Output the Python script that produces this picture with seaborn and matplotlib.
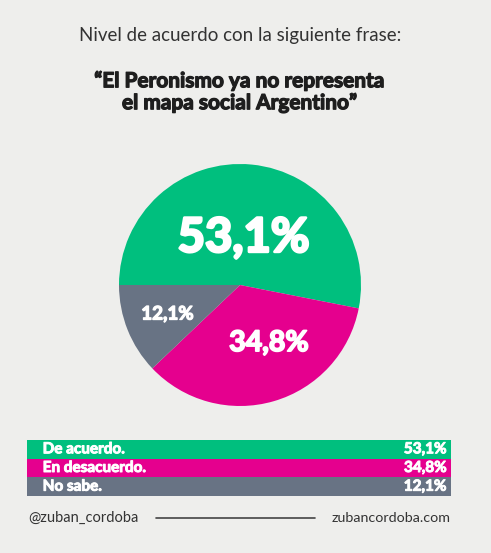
import matplotlib
matplotlib.use("Agg")
import matplotlib.pyplot as plt
import matplotlib.patheffects as pe
import seaborn as sns

categories = ["De acuerdo.", "En desacuerdo.", "No sabe."]
values = [53.1, 34.8, 12.1]
value_labels = ["53,1%", "34,8%", "12,1%"]
colors = ["#00BF7E", "#E5008E", "#687384"]

title = "Nivel de acuerdo con la siguiente frase:"
quote = "\u201cEl Peronismo ya no representa\nel mapa social Argentino\u201d"
handle = "@zuban_cordoba"
site = "zubancordoba.com"

sns.set_theme(style="white")
BG = "#EEEEEC"
plt.rcParams['font.family'] = ['Lato', 'DejaVu Sans']

def heavy(color, w):
    return [pe.withStroke(linewidth=w, foreground=color)]

fig = plt.figure(figsize=(4.91, 5.53), dpi=100, facecolor=BG)

# Titles
fig.text(240/491, 1-35/553, title, ha="center", va="center", fontsize=13.5,
         color="#333333", fontweight="normal")
fig.text(240/491, 1-92/553, quote, ha="center", va="center", fontsize=15,
         color="#1e1e1e", fontweight="bold", linespacing=1.1,
         path_effects=heavy("#1e1e1e", 0.9))

# Pie
ax = fig.add_axes([119/491, 1-406/553, 242/491, 242/553])
ax.set_facecolor(BG)
ax.pie(values, colors=colors, startangle=180, counterclock=False,
       wedgeprops=dict(linewidth=0))
ax.set_aspect("equal")
ax.set_xlim(-1, 1)
ax.set_ylim(-1, 1)
ax.axis("off")
label_pos = [(0.03, 0.39), (0.24, -0.48), (-0.60, -0.24)]
label_sizes = [34, 20.5, 13.5]
label_strokes = [2.0, 1.3, 0.9]
for (x, y), lab, s, w in zip(label_pos, value_labels, label_sizes, label_strokes):
    ax.text(x, y, lab, ha="center", va="center", color="white",
            fontsize=s, fontweight="bold", path_effects=heavy("white", w))

# Legend table as full-width bars
axl = fig.add_axes([27/491, 1-496/553, 424/491, 56/553])
axl.set_facecolor(BG)
axl.barh(range(len(categories)), [1]*len(categories), height=1.0,
         color=colors, linewidth=0, left=0)
axl.set_xlim(0, 1)
axl.set_ylim(len(categories)-0.5, -0.5)
axl.axis("off")
for i, (c, lab) in enumerate(zip(categories, value_labels)):
    axl.text(0.037, i, c, ha="left", va="center", color="white",
             fontsize=11, fontweight="bold", path_effects=heavy("white", 0.7))
    axl.text(0.99, i, lab, ha="right", va="center", color="white",
             fontsize=11, fontweight="bold", path_effects=heavy("white", 0.7))

# Footer
fig.text(28/491, 1-518/553, handle, ha="left", va="center", fontsize=10.5,
         color="#333333")
fig.text(451/491, 1-518/553, site, ha="right", va="center", fontsize=10.3,
         color="#333333")
fig.add_artist(plt.Line2D([156/491, 315/491], [1-518/553, 1-518/553],
                          color="#444444", linewidth=1.2))

fig.savefig("out.png", dpi=100, facecolor=BG)
